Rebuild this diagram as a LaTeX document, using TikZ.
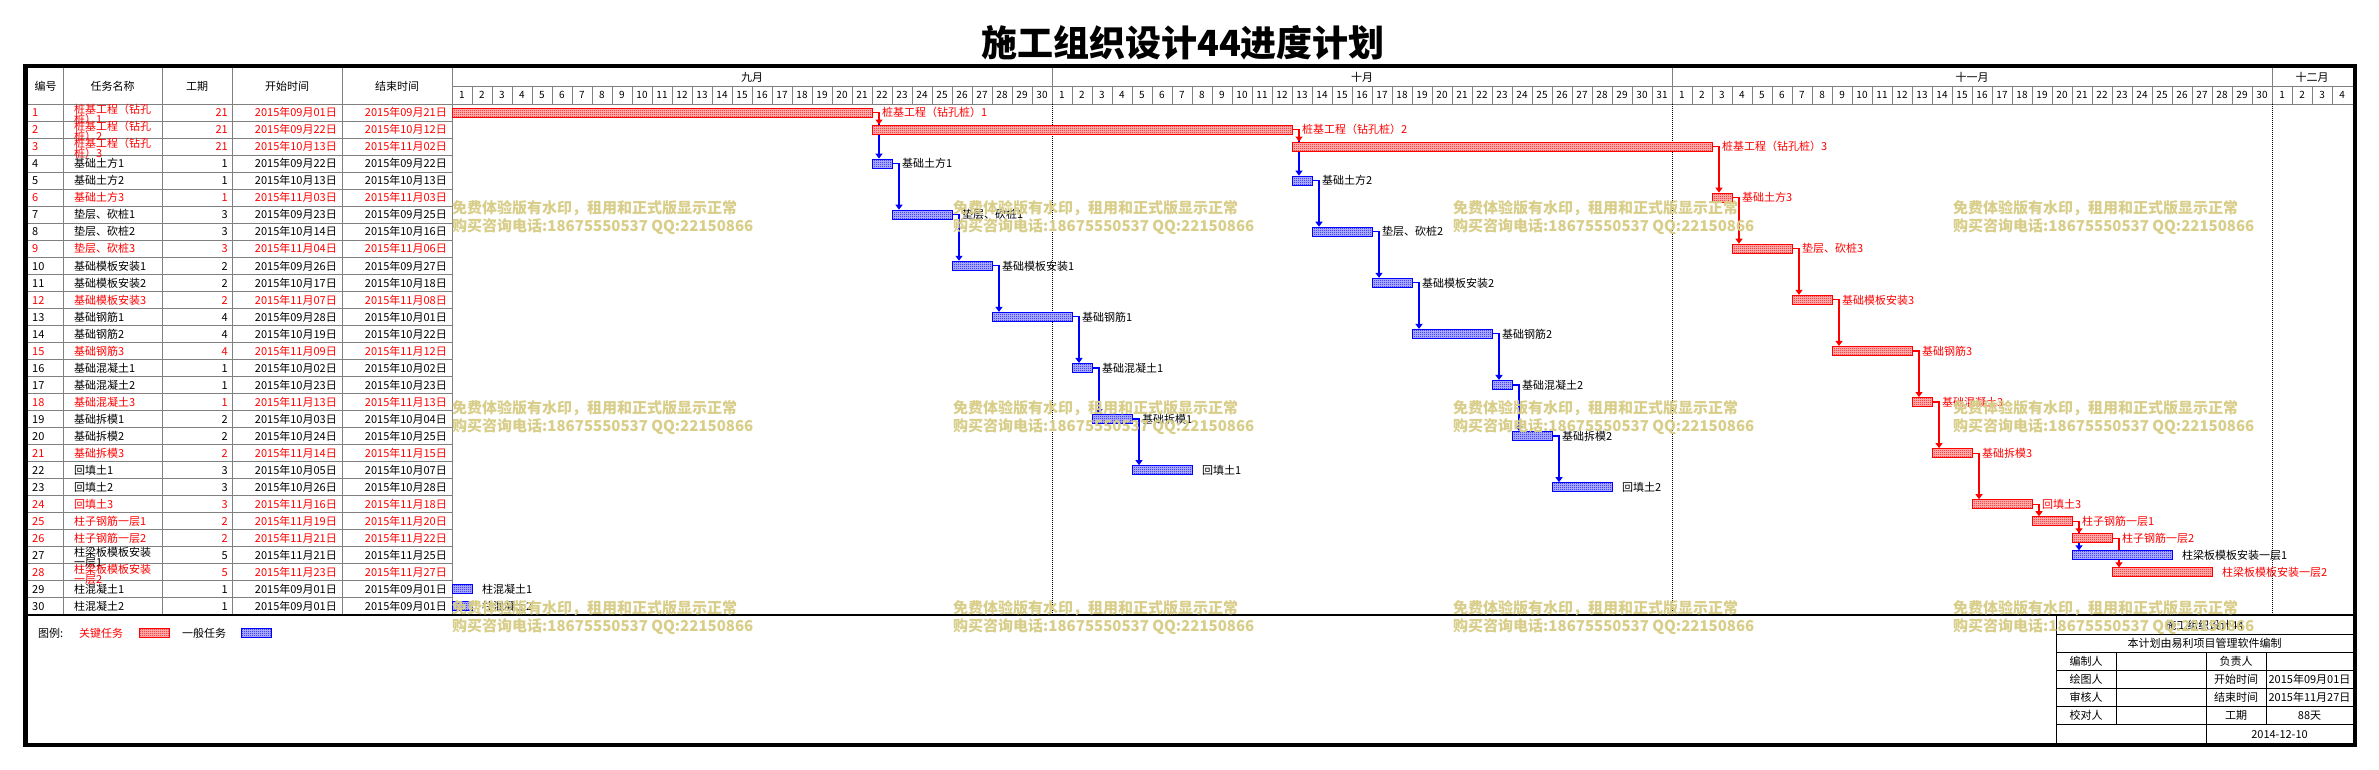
\documentclass[tikz,border=0pt]{standalone}
\usepackage{fontspec}
\setmainfont{Noto Sans CJK SC}
\usepackage{xcolor}
\usepackage{tikz}
\usetikzlibrary{arrows.meta,patterns}

\definecolor{gridgray}{RGB}{128,128,128}
\definecolor{wmtan}{RGB}{216,206,138}

\pgfdeclarelayer{back}
\pgfdeclarelayer{links}
\pgfsetlayers{back,links,main}

% fine checker fill of the bars
\pgfdeclarepatternformonly{checkfine}{\pgfqpoint{0pt}{0pt}}{\pgfqpoint{2pt}{2pt}}{\pgfqpoint{2pt}{2pt}}{%
  \pgfpathrectangle{\pgfqpoint{0pt}{0pt}}{\pgfqpoint{1pt}{1pt}}%
  \pgfpathrectangle{\pgfqpoint{1pt}{1pt}}{\pgfqpoint{1pt}{1pt}}%
  \pgfusepath{fill}}

\begin{document}
\begin{tikzpicture}[x=1pt, y=-1pt,
    txt/.style={inner sep=0pt, font=\fontsize{11}{11}\selectfont, text height=9.5pt, text depth=1pt},
    dayno/.style={inner sep=0pt, font=\fontsize{10}{10}\selectfont, text height=8.6pt, text depth=1pt},
    charttitle/.style={inner sep=0pt, font=\bfseries\fontsize{36}{36}\selectfont},
    gridline/.style={draw=gridgray, line width=1pt},
    monthline/.style={draw=black, line width=1pt, dash pattern=on 1pt off 1pt},
    ganttbar/.style={draw=#1, line width=1pt, preaction={fill=#1!25!white}, pattern=checkfine, pattern color=#1, inner sep=0pt, minimum height=9pt},
    link/.style={draw=#1, line width=1.2pt, -{Triangle[length=5pt,width=7pt]}},
    wmark/.style={inner sep=0pt, text=wmtan, font=\bfseries\fontsize{15}{15}\selectfont}]
\useasboundingbox (0,0) rectangle (2379,769);

\begin{pgfonlayer}{back}
  \fill[white] (0,0) rectangle (2379,769);
  % table columns and rows
  \foreach \cx in {63,162,232,342,452}
    \draw[gridline] (\cx,68) -- (\cx,615);
  \foreach \r in {1,...,29}
    \draw[gridline] (28,{104+\r*17.03}) -- (452,{104+\r*17.03});
  \draw[gridline] (28,104) -- (2353,104);
  \draw[gridline] (452,86) -- (2353,86);
  \foreach \k in {1,...,94}
    \draw[gridline] ({452+20*\k},86) -- ({452+20*\k},104);
  \foreach \mx in {1052,1672,2272} {
    \draw[gridline] (\mx,68) -- (\mx,86);
    \draw[monthline] (\mx,104) -- (\mx,615);
  }
  \draw[line width=1.5pt] (28,615) -- (2353,615);
  % info box
  \draw[line width=1pt] (2056,615) -- (2056,745);
  \foreach \ry in {634,652,670,688,706,724}
    \draw[line width=1pt] (2056,\ry) -- (2353,\ry);
  \draw[line width=1pt] (2116,652) -- (2116,724);
  \draw[line width=1pt] (2206,652) -- (2206,745);
  \draw[line width=1pt] (2266,652) -- (2266,724);
  % frame
  \draw[line width=4.5pt] (25.5,66) rectangle (2355,745);
\end{pgfonlayer}

\node[charttitle] (title) at (1183,43) {施工组织设计44进度计划};

% header
\node[txt] (hno) at (45.5,86) {编号};
\node[txt] (hname) at (112.5,86) {任务名称};
\node[txt] (hdur) at (197,86) {工期};
\node[txt] (hstart) at (287,86) {开始时间};
\node[txt] (hend) at (397,86) {结束时间};

\foreach \mname/\mfirst/\mdays in {九月/0/30,十月/30/31,十一月/61/30,十二月/91/4} {
  \node[txt] (m\mfirst) at ({452+20*(\mfirst+\mdays/2)},77) {\mname};
  \foreach \d in {1,...,\mdays}
    \node[dayno] (d\mfirst-\d) at ({452+20*(\mfirst+\d)-10},95) {\d};
}

% tasks
\foreach \n/\nameA/\nameB/\dur/\dA/\dB/\tc/\bc/\ds/\de in {
  1/桩基工程（钻孔/桩）1/21/2015年09月01日/2015年09月21日/red/red/0/21,
  2/桩基工程（钻孔/桩）2/21/2015年09月22日/2015年10月12日/red/red/21/42,
  3/桩基工程（钻孔/桩）3/21/2015年10月13日/2015年11月02日/red/red/42/63,
  4/基础土方1/{}/1/2015年09月22日/2015年09月22日/black/blue/21/22,
  5/基础土方2/{}/1/2015年10月13日/2015年10月13日/black/blue/42/43,
  6/基础土方3/{}/1/2015年11月03日/2015年11月03日/red/red/63/64,
  7/垫层、砍桩1/{}/3/2015年09月23日/2015年09月25日/black/blue/22/25,
  8/垫层、砍桩2/{}/3/2015年10月14日/2015年10月16日/black/blue/43/46,
  9/垫层、砍桩3/{}/3/2015年11月04日/2015年11月06日/red/red/64/67,
  10/基础模板安装1/{}/2/2015年09月26日/2015年09月27日/black/blue/25/27,
  11/基础模板安装2/{}/2/2015年10月17日/2015年10月18日/black/blue/46/48,
  12/基础模板安装3/{}/2/2015年11月07日/2015年11月08日/red/red/67/69,
  13/基础钢筋1/{}/4/2015年09月28日/2015年10月01日/black/blue/27/31,
  14/基础钢筋2/{}/4/2015年10月19日/2015年10月22日/black/blue/48/52,
  15/基础钢筋3/{}/4/2015年11月09日/2015年11月12日/red/red/69/73,
  16/基础混凝土1/{}/1/2015年10月02日/2015年10月02日/black/blue/31/32,
  17/基础混凝土2/{}/1/2015年10月23日/2015年10月23日/black/blue/52/53,
  18/基础混凝土3/{}/1/2015年11月13日/2015年11月13日/red/red/73/74,
  19/基础拆模1/{}/2/2015年10月03日/2015年10月04日/black/blue/32/34,
  20/基础拆模2/{}/2/2015年10月24日/2015年10月25日/black/blue/53/55,
  21/基础拆模3/{}/2/2015年11月14日/2015年11月15日/red/red/74/76,
  22/回填土1/{}/3/2015年10月05日/2015年10月07日/black/blue/34/37,
  23/回填土2/{}/3/2015年10月26日/2015年10月28日/black/blue/55/58,
  24/回填土3/{}/3/2015年11月16日/2015年11月18日/red/red/76/79,
  25/柱子钢筋一层1/{}/2/2015年11月19日/2015年11月20日/red/red/79/81,
  26/柱子钢筋一层2/{}/2/2015年11月21日/2015年11月22日/red/red/81/83,
  27/柱梁板模板安装/一层1/5/2015年11月21日/2015年11月25日/black/blue/81/86,
  28/柱梁板模板安装/一层2/5/2015年11月23日/2015年11月27日/red/red/83/88,
  29/柱混凝土1/{}/1/2015年09月01日/2015年09月01日/black/blue/0/1,
  30/柱混凝土2/{}/1/2015年09月01日/2015年09月01日/black/blue/0/1} {
  \pgfmathsetmacro\rt{104+(\n-1)*17.03}
  \node[txt, text=\tc, anchor=west] (no\n) at (32,\rt+8.5) {\n};
  \if\relax\detokenize\expandafter{\nameB}\relax
    \node[txt, text=\tc, anchor=west] (na\n) at (74,\rt+8.5) {\nameA};
  \else
    \node[txt, text=\tc, anchor=west] (na\n) at (74,\rt+5) {\nameA};
    \node[txt, text=\tc, anchor=west] (nb\n) at (74,\rt+15.5) {\nameB};
  \fi
  \node[txt, text=\tc, anchor=east] (du\n) at (228,\rt+8.5) {\dur};
  \node[txt, text=\tc, anchor=east] (sa\n) at (337,\rt+8.5) {\dA};
  \node[txt, text=\tc, anchor=east] (sb\n) at (447,\rt+8.5) {\dB};
  \node[ganttbar=\bc, anchor=west, minimum width={(\de-\ds)*20}] (b\n) at ({452+20*\ds},\rt+8.5) {};
  \node[txt, text=\tc, anchor=west] (t\n) at ([xshift=9pt]b\n.east) {\nameA\nameB};
}

% links
\begin{pgfonlayer}{links}
\foreach \pa/\su/\col in {1/4/blue,2/5/blue,4/7/blue,5/8/blue,7/10/blue,8/11/blue,
    10/13/blue,11/14/blue,13/16/blue,14/17/blue,16/19/blue,17/20/blue,19/22/blue,
    20/23/blue,25/27/blue,1/2/red,2/3/red,3/6/red,6/9/red,9/12/red,12/15/red,
    15/18/red,18/21/red,21/24/red,24/25/red,25/26/red,26/28/red}
  \draw[link=\col] (b\pa.east) -| ([xshift=7pt]b\su.north west);
\end{pgfonlayer}

% legend
\node[txt, anchor=west] (lg) at (38,633) {图例:};
\node[txt, text=red, anchor=west] (lgcrit) at (79,633) {关键任务};
\node[ganttbar=red, anchor=west, minimum width=30] (lgcritbox) at (139,633) {};
\node[txt, anchor=west] (lgnorm) at (182,633) {一般任务};
\node[ganttbar=blue, anchor=west, minimum width=30] (lgnormbox) at (241,633) {};

% info box
\node[txt] (ib1) at (2204.5,625) {施工组织设计44};
\node[txt] (ib2) at (2204.5,643) {本计划由易利项目管理软件编制};
\node[txt] (ibA) at (2086,661) {编制人};
\node[txt] (ibB) at (2086,679) {绘图人};
\node[txt] (ibC) at (2086,697) {审核人};
\node[txt] (ibD) at (2086,715) {校对人};
\node[txt] (ibE) at (2236,661) {负责人};
\node[txt] (ibF) at (2236,679) {开始时间};
\node[txt] (ibG) at (2236,697) {结束时间};
\node[txt] (ibH) at (2236,715) {工期};
\node[txt] (ibF2) at (2309.5,679) {2015年09月01日};
\node[txt] (ibG2) at (2309.5,697) {2015年11月27日};
\node[txt] (ibH2) at (2309.5,715) {88天};
\node[txt] (ibdate) at (2279.5,734) {2014-12-10};

% watermark
\foreach \wx [count=\i] in {452,953,1453,1953}
  \foreach \wy [count=\j] in {208,408,608} {
    \node[wmark, anchor=base west] (wa\i\j) at (\wx,\wy+5.5) {免费体验版有水印，租用和正式版显示正常};
    \node[wmark, anchor=base west] (wb\i\j) at (\wx,\wy+23.5) {购买咨询电话:18675550537 QQ:22150866};
  }
\end{tikzpicture}
\end{document}
